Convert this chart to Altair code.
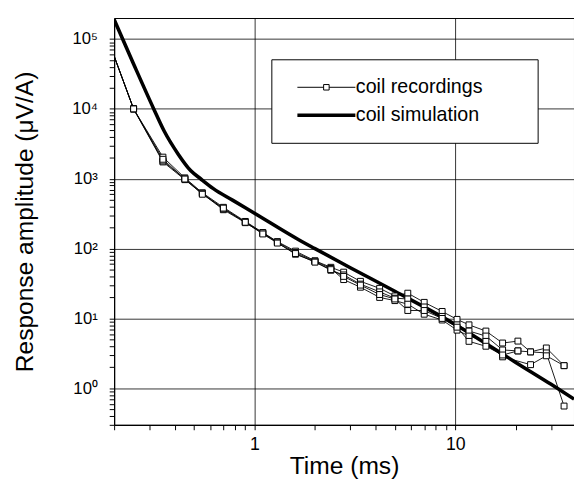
import altair as alt
import pandas as pd

# ---- data ----
times = [0.2, 0.25, 0.35, 0.45, 0.55, 0.7, 0.9, 1.1, 1.3, 1.6, 2.0, 2.4, 2.78, 3.37,
         4.2, 5.0, 5.8, 7.0, 8.6, 10.2, 11.7, 14.2, 17.2, 20.5, 23.7, 28.4, 34.8]
rec_a = [57000, 10000, 2040, 1030, 630, 390, 245, 170, 126, 92, 67, 54, 46, 34,
         27, 21, 23, 17, 12.6, 9.7, 8.1, 6.6, 4.45, 4.74, 3.32, 3.78, 2.11]
rec_b = [57000, 10000, 1740, 970, 610, 360, 235, 165, 122, 83, 65, 49, 42, 31,
         24, 19.5, 19, 14.6, 10.7, 8.1, 6.6, 5.6, 3.54, 3.43, 3.32, 3.21, 0.557]
rec_c = [57000, 10000, 1800, 1000, 620, 370, 240, 168, 124, 88, 66, 52, 36, 28,
         20, 18, 16, 11.5, 9.5, 6.8, 5.6, 4.7, 2.82, None, 2.18, 2.92, 2.11]
rec_d = [57000, 10000, 1900, 990, 600, 380, 238, 162, 120, 85, 64, 50, 40, 30,
         22, 19, 13, 13, 10, 7.5, 4.7, 4.0, 3.0, 3.43, None, None, None]

sim_t = [0.2, 0.25, 0.315, 0.356, 0.417, 0.482, 0.539, 0.624, 0.781, 1.0,
         1.66, 2.0, 3.0, 5.0, 10.0, 14.0, 20.0, 30.0, 39.0]
sim_y = [190000, 44000, 10000, 4740, 2250, 1300, 1000, 722, 490, 321,
         134, 100, 53.3, 24.5, 8.2, 4.5, 2.35, 1.14, 0.70]

rec_kind = "coil recordings"
sim_kind = "coil simulation"
kinds = [rec_kind, sim_kind]

x_ticks = [m / 10 for m in range(2, 10)] + list(range(1, 10)) + [10, 20, 30]
y_ticks = [m / 10 for m in range(3, 10)] + [m * 10 ** k for k in range(0, 6)
                                            for m in range(1, 10) if m * 10 ** k < 200000]
y_decades = [1, 10, 100, 1000, 10000, 100000]
sup = ["\u2070", "\u00b9", "\u00b2", "\u00b3", "\u2074", "\u2075"]

# ---- tables ----
rows = []
for name, vals in [("A", rec_a), ("B", rec_b), ("C", rec_c), ("D", rec_d)]:
    for t, v in zip(times, vals):
        if v is not None:
            rows.append({"t": t, "v": v, "series": name})
rec_df = pd.DataFrame(rows)
sim_df = pd.DataFrame({"t": sim_t, "v": sim_y})
leg_df = pd.DataFrame({"kind": kinds, "t": [1, 1], "v": [1, 1]})

FONT = "Liberation Sans"

xscale = alt.Scale(type="log", domain=[0.2, 39], nice=False)
yscale = alt.Scale(type="log", domain=[0.3, 200000], nice=False)

y_label_expr = " : ".join(
    f"datum.value === {d} ? '10{s}'" for d, s in zip(y_decades, sup)) + " : ''"
y_grid_test = " || ".join(f"datum.value === {d}" for d in y_decades)

xaxis = alt.Axis(
    values=x_ticks, title="Time (ms)",
    labelExpr="datum.value === 1 ? '1' : datum.value === 10 ? '10' : ''",
    gridOpacity={"condition": {"test": "datum.value === 1 || datum.value === 10", "value": 1}, "value": 0},
    labelOverlap=False, labelFlush=False,
    labelFontSize=18, labelPadding=6, titleFontSize=25, titlePadding=1,
)
yaxis = alt.Axis(
    values=y_ticks, title="Response amplitude (\u03bcV/A)",
    labelExpr=y_label_expr,
    gridOpacity={"condition": {"test": y_grid_test, "value": 1}, "value": 0},
    labelOverlap=False, labelFlush=False,
    labelFontSize=17, labelPadding=12, titleFontSize=25, titlePadding=35,
)

X = alt.X("t:Q", scale=xscale, axis=xaxis)
Y = alt.Y("v:Q", scale=yscale, axis=yaxis)

sim_line = alt.Chart(sim_df).mark_line(
    color="black", strokeWidth=3.6, interpolate="monotone", clip=True
).encode(x=X, y=Y)

rec_lines = alt.Chart(rec_df).mark_line(
    color="black", strokeWidth=0.9, clip=True
).encode(x=X, y=Y, detail="series:N", order="t:Q")

rec_points = alt.Chart(rec_df).transform_filter("datum.t > 0.21").mark_square(
    size=36, fill="white", stroke="black", strokeWidth=1, opacity=1, clip=True
).encode(x=X, y=Y, detail="series:N")

rec_path = "M-2.95,0H-0.28M0.28,0H2.95M-0.28,-0.28H0.28V0.28H-0.28Z"
sim_path = "M-2.95,0H2.95"

leg = alt.Legend(
    title=" ", titleOrient="right", titlePadding=38, titleFontSize=12,
    orient="none", legendX=160, legendY=42, padding=18,
    strokeColor="black", fillColor="white",
    labelFont=FONT, labelFontSize=20, labelColor="black",
    symbolSize=400, symbolOffset=26, labelOffset=18, rowPadding=6,
    symbolStrokeColor="black",
)
legend_layer = alt.Chart(leg_df).transform_filter("false").mark_point(
    filled=False, color="black", opacity=1
).encode(
    x=X, y=Y,
    shape=alt.Shape("kind:N", scale=alt.Scale(domain=kinds, range=[rec_path, sim_path]), legend=leg),
    strokeWidth=alt.StrokeWidth("kind:N", scale=alt.Scale(domain=kinds, range=[1, 3.6]), legend=leg),
)

chart = alt.layer(sim_line, rec_lines, rec_points, legend_layer).properties(
    width=468, height=414,
    padding={"left": 4, "top": 6, "right": 0, "bottom": 0},
    background="white",
).configure_view(
    stroke="black", strokeWidth=1
).configure_axis(
    labelFont=FONT, titleFont=FONT, labelColor="black", titleColor="black",
    titleFontWeight="normal", tickColor="black", tickSize=5, tickWidth=1,
    domainColor="black", domainWidth=1.2, gridColor="black", gridWidth=0.8,
)

chart.save("out.html", embed_options={"renderer": "svg", "actions": False})
